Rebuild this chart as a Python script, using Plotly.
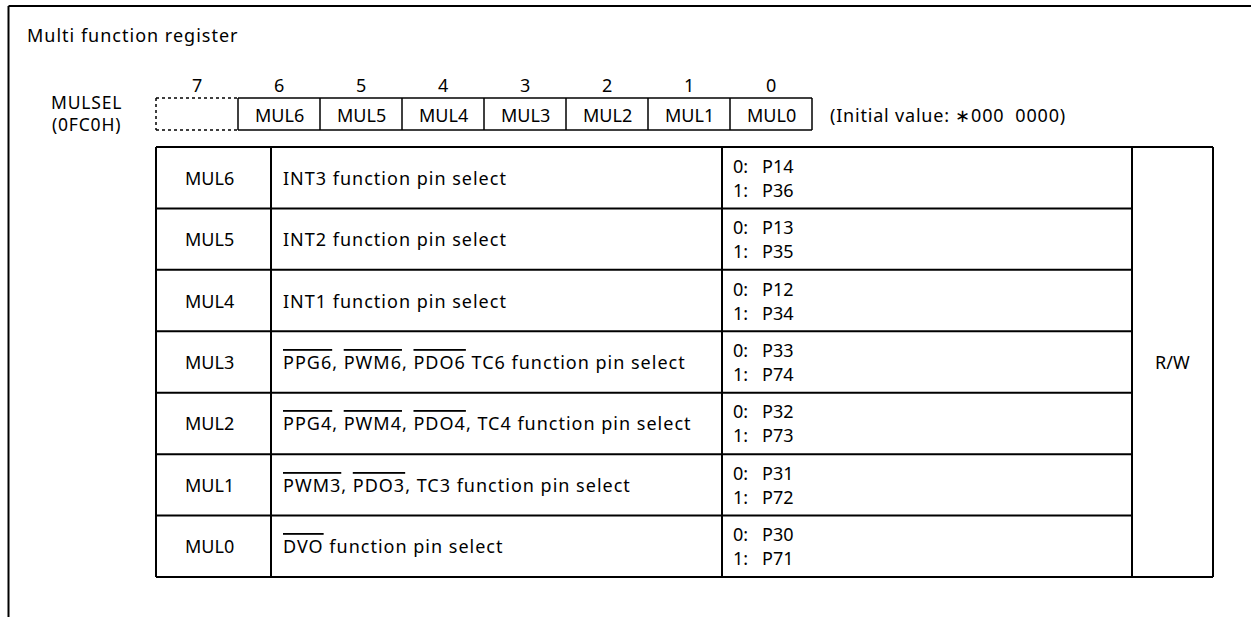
import re
import plotly.graph_objects as go

# ---------------- data ----------------
title_text = "Multi function register"
register_name = "MULSEL"
register_addr = "(0FC0H)"
bit_numbers = ["7", "6", "5", "4", "3", "2", "1", "0"]
bit_fields = ["", "MUL6", "MUL5", "MUL4", "MUL3", "MUL2", "MUL1", "MUL0"]
initial_value = "(Initial value: \u2217000  0000)"
row_names = ["MUL6", "MUL5", "MUL4", "MUL3", "MUL2", "MUL1", "MUL0"]
descriptions = [
    "INT3 function pin select",
    "INT2 function pin select",
    "INT1 function pin select",
    "{PPG6}, {PWM6}, {PDO6} TC6 function pin select",
    "{PPG4}, {PWM4}, {PDO4}, TC4 function pin select",
    "{PWM3}, {PDO3}, TC3 function pin select",
    "{DVO} function pin select",
]
select0 = ["P14", "P13", "P12", "P33", "P32", "P31", "P30"]
select1 = ["P36", "P35", "P34", "P74", "P73", "P72", "P71"]
access = "R/W"

# ---------------- layout constants ----------------
W, H = 1251, 617
FONT = "Noto Sans, Open Sans, sans-serif"
FS = 18
BLACK = "#000000"

frame_x, frame_y = 8.5, 6
reg_x0, cell_w = 156, 82
reg_y0, reg_y1 = 98, 130
bit_y = 85
tab_cols = [156, 271, 722, 1132, 1213]
tab_y0, tab_y1 = 147, 577
n_rows = len(row_names)
row_h = (tab_y1 - tab_y0) / n_rows


def overline(s):
    return re.sub(r"\{([^}]*)\}",
                  r'<span style="text-decoration:overline">\1</span>', s)


def spaced(s, px=1.0):
    return '<span style="letter-spacing:%.1fpx">%s</span>' % (px, s)


shapes = []
ann = []


def line(x0, y0, x1, y1, w=1.5, dash="solid"):
    shapes.append(dict(type="line", xref="x", yref="y", x0=x0, y0=y0, x1=x1, y1=y1,
                       line=dict(color=BLACK, width=w, dash=dash)))


def text(x, y, s, xa="center", size=FS):
    ann.append(dict(x=x, y=y, xref="x", yref="y", text=s, showarrow=False,
                    xanchor=xa, yanchor="middle",
                    font=dict(family=FONT, size=size, color=BLACK)))


# outer frame (top + left)
line(frame_x, frame_y, W + 5, frame_y, w=2)
line(frame_x, frame_y, frame_x, H + 5, w=2)

# title
text(25, 35, spaced(title_text), xa="left")

# register label
text(86, 102, spaced(register_name, 0.8), size=17.5)
text(86, 124, spaced(register_addr, 0.8), size=17.5)

# bit numbers and register cells
for i, (b, f) in enumerate(zip(bit_numbers, bit_fields)):
    cx0 = reg_x0 + i * cell_w
    text(cx0 + cell_w / 2, bit_y, b)
    if f:
        text(cx0 + cell_w / 2, (reg_y0 + reg_y1) / 2 + 1, f)

# dotted box for unused bit 7
line(reg_x0, reg_y0, reg_x0 + cell_w, reg_y0, w=1.5, dash="dot")
line(reg_x0, reg_y1, reg_x0 + cell_w, reg_y1, w=1.5, dash="dot")
line(reg_x0, reg_y0, reg_x0, reg_y1, w=1.5, dash="dot")
# solid cells
x_end = reg_x0 + cell_w * len(bit_numbers)
line(reg_x0 + cell_w, reg_y0, x_end, reg_y0)
line(reg_x0 + cell_w, reg_y1, x_end, reg_y1)
for i in range(1, len(bit_numbers) + 1):
    xx = reg_x0 + i * cell_w
    line(xx, reg_y0, xx, reg_y1)

text(x_end + 16, (reg_y0 + reg_y1) / 2 + 1, spaced(initial_value, 0.8), xa="left")

# table
line(tab_cols[0], tab_y0, tab_cols[-1], tab_y0, w=2)
line(tab_cols[0], tab_y1, tab_cols[-1], tab_y1, w=2)
for cx in tab_cols:
    line(cx, tab_y0, cx, tab_y1, w=2)
for r in range(1, n_rows):
    yy = tab_y0 + r * row_h
    line(tab_cols[0], yy, tab_cols[3], yy, w=2)

for r in range(n_rows):
    yc = tab_y0 + (r + 0.5) * row_h
    text((tab_cols[0] + tab_cols[1]) / 2 - 4, yc, row_names[r])
    text(tab_cols[1] + 10, yc, spaced(overline(descriptions[r])), xa="left")
    text(tab_cols[2] + 9, yc - 12, "0:", xa="left")
    text(tab_cols[2] + 9, yc + 12, "1:", xa="left")
    text(tab_cols[2] + 38, yc - 12, select0[r], xa="left")
    text(tab_cols[2] + 38, yc + 12, select1[r], xa="left")

text((tab_cols[3] + tab_cols[4]) / 2, (tab_y0 + tab_y1) / 2, access)

fig = go.Figure()
fig.update_layout(
    width=W, height=H,
    margin=dict(l=0, r=0, t=0, b=0),
    paper_bgcolor="white", plot_bgcolor="white",
    xaxis=dict(range=[0, W], visible=False, fixedrange=True),
    yaxis=dict(range=[H, 0], visible=False, fixedrange=True),
    shapes=shapes, annotations=ann, showlegend=False,
)
fig.write_html("out.html",
               config={"displayModeBar": False, "staticPlot": True},
               post_script="document.body.style.margin='0';"
                           "document.body.style.overflow='hidden';")
